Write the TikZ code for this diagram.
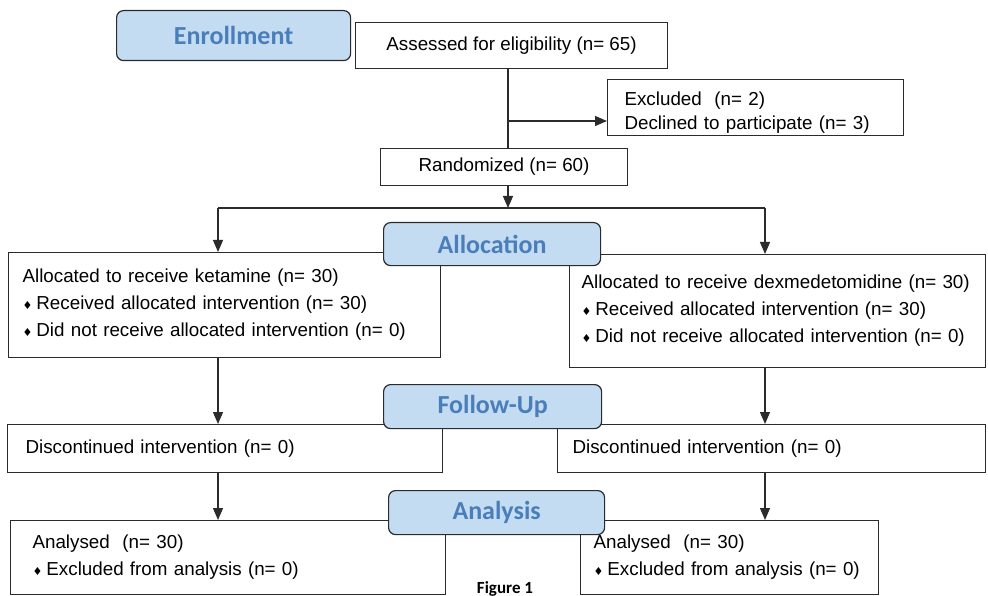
\documentclass[tikz,border=0pt]{standalone}
\usepackage{fontspec}
\setmainfont{Liberation Sans}
\newfontfamily\phasefont{Carlito}
\newfontfamily\symfont{DejaVu Sans}
\usetikzlibrary{arrows.meta,positioning,calc}
\definecolor{phasefill}{HTML}{C4DCF2}
\definecolor{phasetext}{HTML}{4A7EBB}
\definecolor{linedark}{HTML}{2B2B2B}
\tikzset{
  >=Latex,
  flowbox/.style={
    rectangle, draw=linedark, line width=1.1pt, fill=white,
    anchor=north west, inner ysep=0pt,
    font=\fontsize{18.8}{27}\selectfont, text=black
  },
  phase/.style={
    rectangle, rounded corners=7pt, draw=linedark, line width=1.2pt, fill=phasefill,
    anchor=north west, inner sep=0pt, align=center,
    font=\phasefont\bfseries\fontsize{26}{30}\selectfont, text=phasetext
  },
  arrow/.style={-{Triangle[length=12pt,width=10pt]}, line width=1.2pt, draw=linedark},
  link/.style={line width=1.2pt, draw=linedark}
}
\newcommand{\boxat}[6]{% name, x, y, width, height, pad
  \node[flowbox, minimum width=#4pt, minimum height=#5pt, inner xsep=#6pt,
        text width=#4pt-2*#6pt, align=left] (#1) at (#2,#3)}
\newcommand{\dmd}{{\symfont\fontsize{11}{11}\selectfont ♦}\hspace{4pt}}

\begin{document}
\begin{tikzpicture}[x=1pt,y=-1pt]
\useasboundingbox (0,0) rectangle (988,596);
% content boxes
\node[flowbox, minimum width=312pt, minimum height=46pt, align=center] (assess) at (355,22) {Assessed for eligibility (n= 65)};
\boxat{excl}{607}{79}{296}{56}{17} {\rule{0pt}{24pt}Excluded\ \ (n= 2)\\[-3pt]Declined to participate (n= 3)};
\node[flowbox, minimum width=247pt, minimum height=37pt, align=center] (rand) at (380,148) {Randomized (n= 60)};
\boxat{allocL}{8}{252}{432}{105}{14} {Allocated to receive ketamine (n= 30)\\\dmd Received allocated intervention (n= 30)\\\dmd Did not receive allocated intervention (n= 0)};
\boxat{allocR}{569}{254}{416}{113}{12} {Allocated to receive dexmedetomidine (n= 30)\\\dmd Received allocated intervention (n= 30)\\\dmd Did not receive allocated intervention (n= 0)};
\boxat{discL}{7}{424}{435}{48}{18} {Discontinued intervention (n= 0)};
\boxat{discR}{557}{424}{428}{48}{15} {Discontinued intervention (n= 0)};
\boxat{anaL}{10}{520}{435}{74}{22} {Analysed\ \ (n= 30)\\\dmd Excluded from analysis (n= 0)};
\boxat{anaR}{580}{520}{298}{74}{13} {Analysed\ \ (n= 30)\\\dmd Excluded from analysis (n= 0)};
% connectors
\coordinate (split) at (508,121);
\coordinate (fork) at (508,208);
\coordinate (forkL) at (218,208);
\coordinate (forkR) at (765,208);
\draw[link] (assess.south -| split) -- (rand.north -| split);
\draw[arrow] (split) -- (excl.west |- split);
\draw[arrow] (rand.south -| fork) -- (fork);
\draw[link] (forkL) -- (forkR);
\draw[arrow] (forkL) -- (allocL.north -| forkL);
\draw[arrow] (forkR) -- (allocR.north -| forkR);
\draw[arrow] (allocL.south -| forkL) -- (discL.north -| forkL);
\draw[arrow] (allocR.south -| forkR) -- (discR.north -| forkR);
\draw[arrow] (discL.south -| forkL) -- (anaL.north -| forkL);
\draw[arrow] (discR.south -| forkR) -- (anaR.north -| forkR);
% phase labels
\node[phase, minimum width=234pt, minimum height=50pt] (enroll) at (116,10) {Enrollment};
\node[phase, minimum width=217pt, minimum height=43pt] (alloc) at (383,222) {Allocation};
\node[phase, minimum width=218pt, minimum height=44pt] (follow) at (383,384) {Follow-Up};
\node[phase, minimum width=216pt, minimum height=44pt] (analysis) at (388,490) {Analysis};
\node[anchor=base, font=\phasefont\bfseries\fontsize{17}{20}\selectfont] (figlabel) at (505,593) {Figure 1};
\end{tikzpicture}
\end{document}
